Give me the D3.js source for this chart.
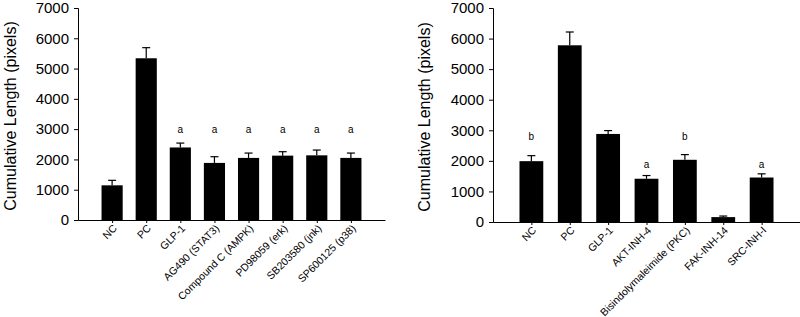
<!DOCTYPE html>
<html>
<head>
<meta charset="utf-8">
<script src="https://cdn.jsdelivr.net/npm/d3@7"></script>
<style>
  body { margin: 0; background: #fff; }
  svg { display: block; font-family: Arial, "Liberation Sans", sans-serif; }
</style>
</head>
<body>
<svg id="chart" width="800" height="317"></svg>
<script>
// Left panel data
const leftCategories = ["NC", "PC", "GLP-1", "AG490 (STAT3)", "Compound C (AMPK)", "PD98059 (erk)", "SB203580 (jnk)", "SP600125 (p38)"];
const leftMeans = [1145, 5340, 2395, 1885, 2050, 2125, 2135, 2050];
const leftErrors = [165, 350, 145, 205, 160, 130, 175, 160];
const leftLetters = ["", "", "a", "a", "a", "a", "a", "a"];
const leftLetterLevel = [0, 0, 2980, 2980, 2980, 2980, 2980, 2980];

// Right panel data
const rightCategories = ["NC", "PC", "GLP-1", "AKT-INH-4", "Bisindolymaleimide (PKC)", "FAK-INH-14", "SRC-INH-I"];
const rightMeans = [1990, 5780, 2880, 1415, 2035, 160, 1455];
const rightErrors = [180, 435, 110, 105, 170, 35, 120];
const rightLetters = ["b", "", "", "a", "b", "", "a"];
const rightLetterLevel = [2800, 0, 0, 1880, 2800, 0, 1880];

const yTicks = [0, 1000, 2000, 3000, 4000, 5000, 6000, 7000];
const yLabel = "Cumulative Length (pixels)";

const svg = d3.select("#chart");

function drawPanel(opt) {
    const g = svg.append("g");
    const n = opt.categories.length;

    // slots 0..n+1, bars sit on 1..n
    const x = d3.scaleLinear().domain([0, n + 1]).range([opt.left, opt.right]);
    const y = d3.scaleLinear().domain([0, 7000]).range([opt.bottom, opt.top]);
    const step = x(1) - x(0);
    const barW = step * 0.62;

    // y axis
    const yAxis = d3.axisLeft(y).tickValues(yTicks).tickSize(4).tickPadding(5).tickFormat(d3.format("d"));
    const ya = g.append("g").attr("transform", `translate(${opt.left},0)`).call(yAxis);
    ya.select(".domain").attr("stroke", "#000").attr("stroke-width", 1);
    ya.selectAll(".tick line").attr("stroke", "#000");
    ya.selectAll(".tick text").attr("font-size", 15).attr("fill", "#000");

    // x axis
    const xAxis = d3.axisBottom(x).tickValues(d3.range(1, n + 1)).tickSize(3).tickSizeOuter(0)
        .tickFormat(i => opt.categories[i - 1]);
    const xa = g.append("g").attr("transform", `translate(0,${opt.bottom})`).call(xAxis);
    xa.select(".domain").attr("stroke", "#000").attr("stroke-width", 1);
    xa.selectAll(".tick line").attr("stroke", "#000");
    xa.selectAll(".tick text")
        .attr("font-size", 10.5)
        .attr("fill", "#000")
        .attr("text-anchor", "end")
        .attr("dy", null)
        .attr("y", 0)
        .attr("transform", "translate(5,9) rotate(-45)");

    // bars
    g.selectAll("rect.bar")
        .data(opt.means)
        .enter()
        .append("rect")
        .attr("class", "bar")
        .attr("x", (d, i) => x(i + 1) - barW / 2)
        .attr("y", d => y(d))
        .attr("width", barW)
        .attr("height", d => opt.bottom - y(d))
        .attr("fill", "#000");

    // error bars (upper only)
    const eb = g.selectAll("g.err")
        .data(opt.means.map((m, i) => ({ m, e: opt.errors[i], i })))
        .enter()
        .append("g")
        .attr("class", "err");
    eb.append("line")
        .attr("x1", d => x(d.i + 1)).attr("x2", d => x(d.i + 1))
        .attr("y1", d => y(d.m)).attr("y2", d => y(d.m + d.e))
        .attr("stroke", "#000").attr("stroke-width", 1.2);
    eb.append("line")
        .attr("x1", d => x(d.i + 1) - 4).attr("x2", d => x(d.i + 1) + 4)
        .attr("y1", d => y(d.m + d.e)).attr("y2", d => y(d.m + d.e))
        .attr("stroke", "#000").attr("stroke-width", 1.2);

    // significance letters
    g.selectAll("text.sig")
        .data(opt.letters.map((t, i) => ({ t, lv: opt.letterLevel[i], i })).filter(d => d.t))
        .enter()
        .append("text")
        .attr("class", "sig")
        .attr("x", d => x(d.i + 1))
        .attr("y", d => y(d.lv))
        .attr("dy", "0.35em")
        .attr("text-anchor", "middle")
        .attr("font-size", 10)
        .attr("fill", "#000")
        .text(d => d.t);

    // y label
    g.append("text")
        .attr("transform", `translate(${opt.labelX},${(opt.top + opt.bottom) / 2 + 2}) rotate(-90)`)
        .attr("text-anchor", "middle")
        .attr("dy", "0.35em")
        .attr("font-size", 16)
        .attr("fill", "#000")
        .text(yLabel);
}

drawPanel({
    categories: leftCategories, means: leftMeans, errors: leftErrors,
    letters: leftLetters, letterLevel: leftLetterLevel,
    left: 78, right: 385, top: 8, bottom: 220, labelX: 10
});

drawPanel({
    categories: rightCategories, means: rightMeans, errors: rightErrors,
    letters: rightLetters, letterLevel: rightLetterLevel,
    left: 493, right: 800, top: 8, bottom: 222, labelX: 424
});
</script>
</body>
</html>
